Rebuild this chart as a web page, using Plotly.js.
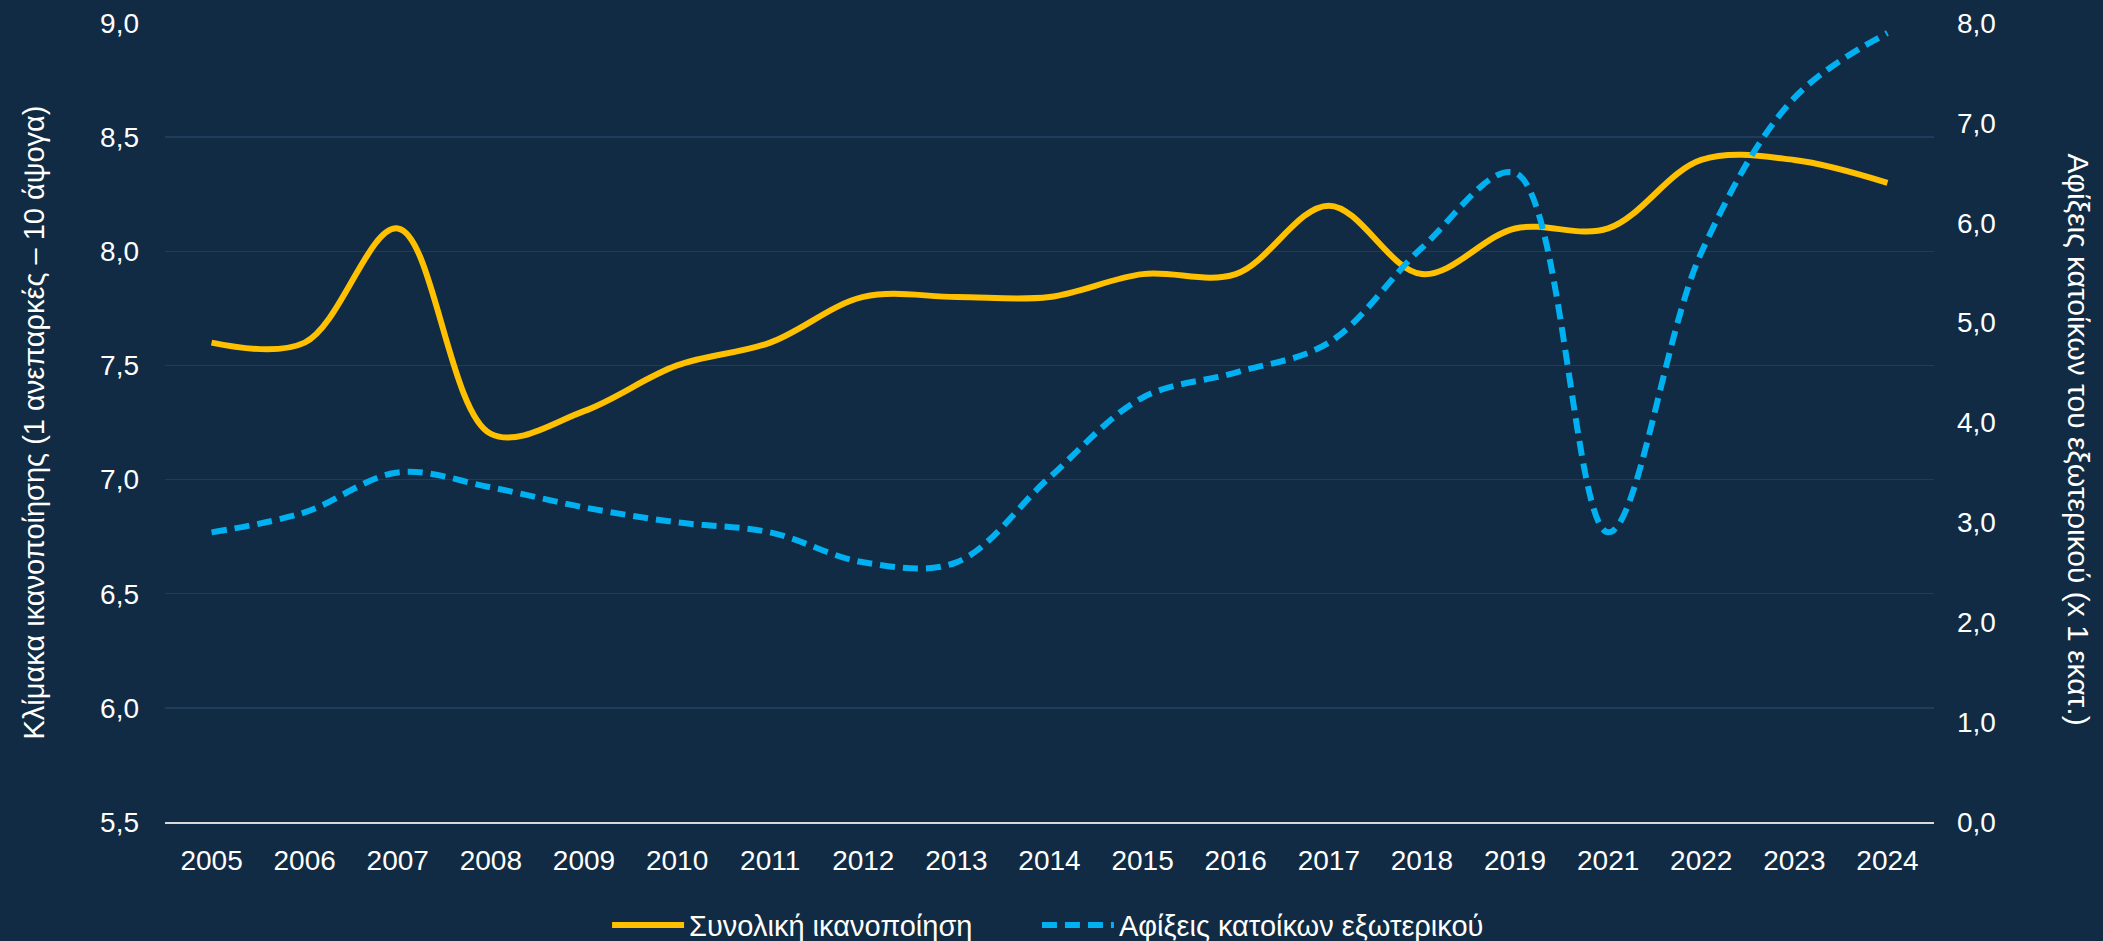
<!DOCTYPE html>
<html>
<head>
<meta charset="utf-8">
<script src="https://cdn.plot.ly/plotly-3.0.1.min.js"></script>
<style>
html,body{margin:0;padding:0;background:#102b43;}
#chart{width:2103px;height:941px;}
</style>
</head>
<body>
<div id="chart"></div>
<script>
const years = ['2005','2006','2007','2008','2009','2010','2011','2012','2013','2014','2015','2016','2017','2018','2019','2021','2022','2023','2024'];
const satisfaction = [7.6,7.6,8.1,7.2,7.3,7.5,7.6,7.8,7.8,7.8,7.9,7.9,8.2,7.9,8.1,8.1,8.4,8.4,8.3];
const arrivals = [2.9,3.1,3.5,3.35,3.15,3.0,2.9,2.6,2.6,3.45,4.25,4.5,4.8,5.75,6.5,2.9,5.7,7.25,7.9];
const leftTitle = 'Κλίμακα ικανοποίησης (1 ανεπαρκές – 10 άψογα)';
const rightTitle = 'Αφίξεις κατοίκων του εξωτερικού (x 1 εκατ.)';
const name1 = 'Συνολική ικανοποίηση';
const name2 = 'Αφίξεις κατοίκων εξωτερικού';

const FONT = 'Liberation Sans, Arial, sans-serif';
const TXT = '#ffffff';

const traces = [
  {
    x: years, y: satisfaction, name: name1, type: 'scatter', mode: 'lines',
    line: {color: '#ffc000', width: 6, shape: 'spline', smoothing: 1},
    yaxis: 'y', hoverinfo: 'skip', legend: 'legend'
  },
  {
    x: years, y: arrivals, name: name2, type: 'scatter', mode: 'lines',
    line: {color: '#00b0f0', width: 6, shape: 'spline', smoothing: 1, dash: '15px,8px'},
    yaxis: 'y2', hoverinfo: 'skip', legend: 'legend2'
  }
];

const legendCommon = {
  orientation: 'h', xanchor: 'left', y: -0.129, yanchor: 'middle',
  itemwidth: 72, font: {family: FONT, color: TXT, size: 29}, bgcolor: 'rgba(0,0,0,0)'
};

const layout = {
  width: 2103, height: 941,
  paper_bgcolor: '#102b43', plot_bgcolor: '#102b43',
  separators: ',.',
  margin: {l: 165, r: 169, t: 23, b: 119, autoexpand: false},
  font: {family: FONT, color: TXT, size: 28},
  showlegend: true,
  legend: Object.assign({}, legendCommon, {x: 0.2499}),
  legend2: Object.assign({}, legendCommon, {x: 0.4929}),
  xaxis: {
    type: 'category', categoryorder: 'array', categoryarray: years,
    range: [-0.5, 18.5], showgrid: false, zeroline: false,
    showline: true, linecolor: '#d9d9d9', linewidth: 2,
    ticks: '', ticklabelstandoff: 12,
    tickfont: {family: FONT, color: TXT, size: 28}
  },
  yaxis: {
    range: [5.5, 9.0], dtick: 0.5, tick0: 5.5, tickformat: '.1f',
    showgrid: true, gridcolor: '#1e3d5c', gridwidth: 1.5, zeroline: false,
    showline: false, ticks: '', ticklabelstandoff: 25,
    tickfont: {family: FONT, color: TXT, size: 28},
    title: {text: leftTitle, font: {family: FONT, color: TXT, size: 29}, standoff: 46}
  },
  yaxis2: {
    overlaying: 'y', side: 'right',
    range: [0, 8], dtick: 1, tick0: 0, tickformat: '.1f',
    showgrid: false, zeroline: false, showline: false, ticks: '', ticklabelstandoff: 22,
    tickfont: {family: FONT, color: TXT, size: 28}
  },
  annotations: [
    {
      text: rightTitle, xref: 'paper', yref: 'paper', x: 1.0818, y: 0.479,
      xanchor: 'center', yanchor: 'middle', textangle: 90, showarrow: false,
      font: {family: FONT, color: TXT, size: 30}
    }
  ]
};

Plotly.newPlot('chart', traces, layout, {staticPlot: true, displayModeBar: false});
</script>
</body>
</html>
